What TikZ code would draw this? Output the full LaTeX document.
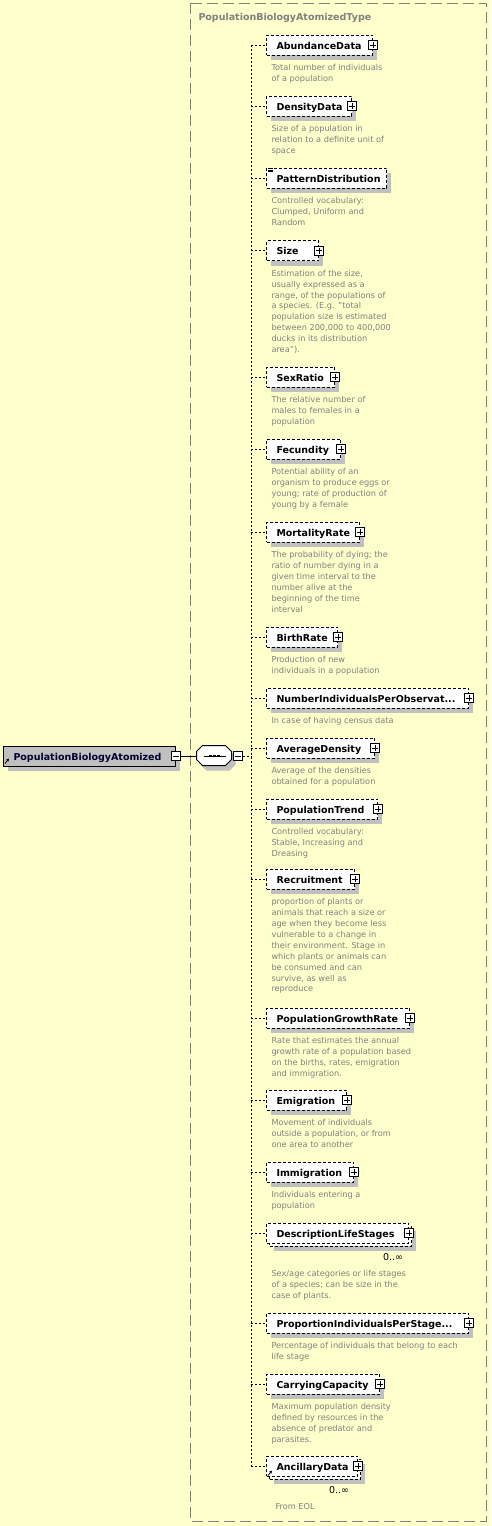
\documentclass[tikz,border=0pt]{standalone}
\usepackage{fontspec}
\setmainfont{DejaVu Sans}
\usetikzlibrary{shadows,arrows.meta}
\definecolor{bgyellow}{RGB}{255,255,204}
\definecolor{shadowgray}{RGB}{192,192,192}
\definecolor{rootgray}{RGB}{192,192,192}
\definecolor{notegray}{RGB}{128,128,128}
\definecolor{rootblue}{RGB}{0,0,48}
\newcommand{\elemfont}{\bfseries\fontsize{9.5}{11}\selectfont}
\newcommand{\notefont}{\fontsize{8.2}{10.9}\selectfont}

\begin{document}
\begin{tikzpicture}[x=1pt, y=-1pt, line width=1pt,
  elem/.style={anchor=west, draw, dash pattern=on 3pt off 2pt, fill=white, minimum height=20pt,
    inner xsep=10pt, inner ysep=0pt, text height=8pt, text depth=0pt, align=left, font=\elemfont},
  elem shadow/.style={drop shadow={shadow xshift=4pt, shadow yshift=-5pt, fill=shadowgray, opacity=1}},
  note/.style={anchor=north west, inner sep=0pt, align=left, text=notegray, font=\notefont},
  plus/.style={draw, solid, fill=white, minimum size=9pt, inner sep=0pt,
    path picture={\draw[solid] ([yshift=-1.5pt]path picture bounding box.north) -- ([yshift=1.5pt]path picture bounding box.south)
      ([xshift=1.5pt]path picture bounding box.west) -- ([xshift=-1.5pt]path picture bounding box.east);}},
  minus/.style={draw, solid, fill=white, minimum size=9pt, inner sep=0pt,
    path picture={\draw[solid] ([xshift=1.5pt]path picture bounding box.west) -- ([xshift=-1.5pt]path picture bounding box.east);}},
  conn/.style={dash pattern=on 2pt off 2pt},
  mult/.style={inner sep=0pt, font=\fontsize{9.5}{11}\selectfont}]

\fill[bgyellow] (0,0) rectangle (491,1526);
\useasboundingbox (0,0) rectangle (491,1526);

% type frame
\draw[notegray, dash pattern=on 11pt off 5pt] (190,3) rectangle (486,1521);
\node[anchor=base west, inner sep=0pt, text=notegray, font=\elemfont] (title) at (198,20) {PopulationBiologyAtomizedType};

% root element and sequence
\node[anchor=west, draw, solid, fill=rootgray, minimum height=20pt, text width=152pt, inner xsep=10pt, inner ysep=0pt,
  text height=8pt, text depth=0pt, font=\elemfont, text=rootblue, elem shadow] (root) at (3,756) {PopulationBiologyAtomized};
\draw[-{Stealth[length=3pt,width=3pt]}, line width=0.8pt] ([shift={(2pt,3pt)}]root.south west) -- ++(4,-5);
\node[minus] (m1) at (root.east) {};

\node[minimum width=35pt, minimum height=20pt, inner sep=0pt] (seq) at (214.5,756) {};
\fill[shadowgray] ([shift={(10pt,-5pt)}]seq.north west) -- ++(23,0) -- ++(6,6) -- ++(0,8) -- ++(-6,6) -- ++(-23,0) -- ++(-6,-6) -- ++(0,-8) -- cycle;
\draw[fill=white] ([xshift=6pt]seq.north west) -- ++(23,0) -- ++(6,6) -- ++(0,8) -- ++(-6,6) -- ++(-23,0) -- ++(-6,-6) -- ++(0,-8) -- cycle;
\draw ([xshift=7pt]seq.west) -- ([xshift=-7pt]seq.east);
\foreach \dx in {-4,0,4}
  \fill ([xshift=\dx pt]seq.center) +(-1.3,-1.3) rectangle +(1.3,1.3);
\node[minus] (m2) at ([xshift=5pt]seq.east) {};
\draw (m1.east) -- (seq.west);

\coordinate (sp) at (251,0);

% child elements
\node[elem, elem shadow, text width=86pt] (e1) at (266,45) {AbundanceData};
\node[plus] (p1) at (e1.east) {};
\node[note] (d1) at (271,64) {Total number of individuals\\of a population};

\node[elem, elem shadow, text width=65pt] (e2) at (266,106) {DensityData};
\node[plus] (p2) at (e2.east) {};
\node[note] (d2) at (271,125) {Size of a population in\\relation to a definite unit of\\space};

\node[elem, elem shadow, text width=100pt] (e3) at (266,178) {PatternDistribution};
\foreach \k in {1,2.5,4}
  \draw[solid, line width=0.6pt] ([shift={(2pt,-\k pt)}]e3.north west) -- ++(5,0);
\node[note] (d3) at (271,197) {Controlled vocabulary:\\Clumped, Uniform and\\Random};

\node[elem, elem shadow, text width=32pt] (e4) at (266,250.5) {Size};
\node[plus] (p4) at (e4.east) {};
\node[note] (d4) at (271,269.5) {Estimation of the size,\\usually expressed as a\\range, of the populations of\\a species. (E.g. "total\\population size is estimated\\between 200,000 to 400,000\\ducks in its distribution\\area").};

\node[elem, elem shadow, text width=48pt] (e5) at (266,377) {SexRatio};
\node[plus] (p5) at (e5.east) {};
\node[note] (d5) at (271,396) {The relative number of\\males to females in a\\population};

\node[elem, elem shadow, text width=54pt] (e6) at (266,449) {Fecundity};
\node[plus] (p6) at (e6.east) {};
\node[note] (d6) at (271,468) {Potential ability of an\\organism to produce eggs or\\young; rate of production of\\young by a female};

\node[elem, elem shadow, text width=73pt] (e7) at (266,532) {MortalityRate};
\node[plus] (p7) at (e7.east) {};
\node[note] (d7) at (271,551) {The probability of dying; the\\ratio of number dying in a\\given time interval to the\\number alive at the\\beginning of the time\\interval};

\node[elem, elem shadow, text width=51pt] (e8) at (266,637) {BirthRate};
\node[plus] (p8) at (e8.east) {};
\node[note] (d8) at (271,656) {Production of new\\individuals in a population};

\node[elem, elem shadow, text width=182pt] (e9) at (266,698) {NumberIndividualsPerObservat...};
\node[plus] (p9) at (e9.east) {};
\node[note] (d9) at (271,717) {In case of having census data};

\node[elem, elem shadow, text width=88pt] (e10) at (266,748) {AverageDensity};
\node[plus] (p10) at (e10.east) {};
\node[note] (d10) at (271,767) {Average of the densities\\obtained for a population};

\node[elem, elem shadow, text width=91pt] (e11) at (266,809) {PopulationTrend};
\node[plus] (p11) at (e11.east) {};
\node[note] (d11) at (271,828) {Controlled vocabulary:\\Stable, Increasing and\\Dreasing};

\node[elem, elem shadow, text width=68pt] (e12) at (266,879) {Recruitment};
\node[plus] (p12) at (e12.east) {};
\node[note] (d12) at (271,898) {proportion of plants or\\animals that reach a size or\\age when they become less\\vulnerable to a change in\\their environment. Stage in\\which plants or animals can\\be consumed and can\\survive, as well as\\reproduce};

\node[elem, elem shadow, text width=123pt] (e13) at (266,1018) {PopulationGrowthRate};
\node[plus] (p13) at (e13.east) {};
\node[note] (d13) at (271,1037) {Rate that estimates the annual\\growth rate of a population based\\on the births, rates, emigration\\and immigration.};

\node[elem, elem shadow, text width=60pt] (e14) at (266,1100) {Emigration};
\node[plus] (p14) at (e14.east) {};
\node[note] (d14) at (271,1119) {Movement of individuals\\outside a population, or from\\one area to another};

\node[elem, elem shadow, text width=67pt] (e15) at (266,1172) {Immigration};
\node[plus] (p15) at (e15.east) {};
\node[note] (d15) at (271,1191) {Individuals entering a\\population};

\node[elem, elem shadow, text width=122pt] (e16b) at (269,1236) {};
\node[elem, text width=122pt] (e16) at (266,1233) {DescriptionLifeStages};
\node[plus] (p16) at (e16.east) {};
\node[mult] (n16) at (393,1257) {0..∞};
\node[note] (d16) at (271,1270) {Sex/age categories or life stages\\of a species; can be size in the\\case of plants.};

\node[elem, elem shadow, text width=182pt] (e17) at (266,1323) {ProportionIndividualsPerStage...};
\node[plus] (p17) at (e17.east) {};
\node[note] (d17) at (271,1342) {Percentage of individuals that belong to each\\life stage};

\node[elem, elem shadow, text width=93pt] (e18) at (266,1384) {CarryingCapacity};
\node[plus] (p18) at (e18.east) {};
\node[note] (d18) at (271,1403) {Maximum population density\\defined by resources in the\\absence of predator and\\parasites.};

\node[elem, elem shadow, text width=71pt] (e19b) at (269,1469) {};
\node[elem, text width=71pt] (e19) at (266,1466) {AncillaryData};
\draw[-{Stealth[length=3pt,width=3pt]}, line width=0.8pt] ([shift={(2pt,1pt)}]e19.south west) -- ++(4,-5);
\node[plus] (p19) at (e19.east) {};
\node[mult] (n19) at (339,1490) {0..∞};
\node[note] (d19) at (275,1502.5) {From EOL};

% connectors
\draw[conn] (m2.east) -- (m2.east -| sp);
\draw[conn] (e1.west -| sp) -- (e19.west -| sp);
\foreach \i in {1,...,19}
  \draw[conn] (e\i.west -| sp) -- (e\i.west);
\end{tikzpicture}
\end{document}
